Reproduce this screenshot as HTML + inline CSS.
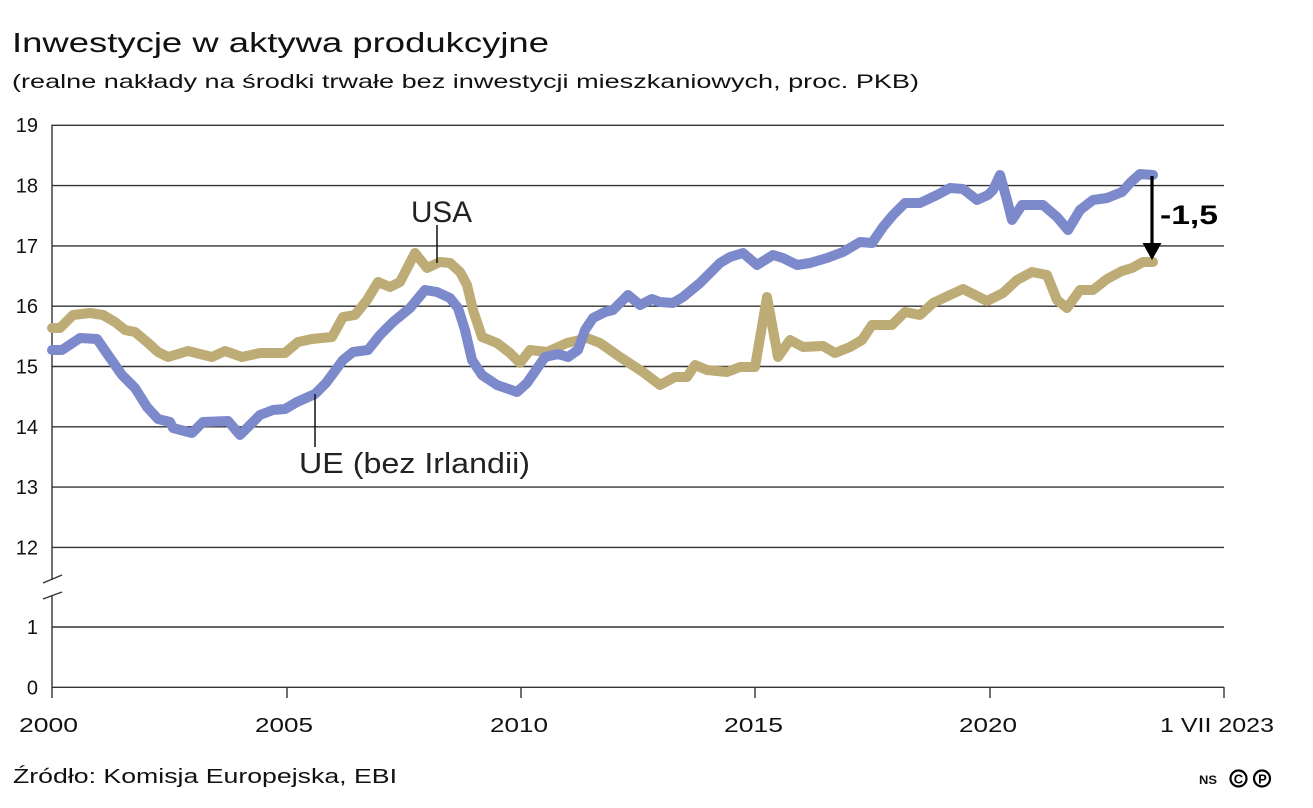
<!DOCTYPE html>
<html><head><meta charset="utf-8"><style>
html,body{margin:0;padding:0;background:#fff;}
svg{display:block;}
text{font-family:"Liberation Sans",sans-serif;}
</style></head><body>
<svg width="1313" height="808" viewBox="0 0 1313 808" xmlns="http://www.w3.org/2000/svg">
<rect width="1313" height="808" fill="#fff"/>
<text x="12" y="52" font-size="27.5" fill="#111" textLength="537" lengthAdjust="spacingAndGlyphs">Inwestycje w aktywa produkcyjne</text>
<text x="12" y="88" font-size="19.5" fill="#111" textLength="907" lengthAdjust="spacingAndGlyphs">(realne nakłady na środki trwałe bez inwestycji mieszkaniowych, proc. PKB)</text>
<g stroke="#333" stroke-width="1.4" fill="none">
<line x1="52" y1="125.3" x2="1224" y2="125.3"/>
<line x1="52" y1="185.6" x2="1224" y2="185.6"/>
<line x1="52" y1="245.9" x2="1224" y2="245.9"/>
<line x1="52" y1="306.2" x2="1224" y2="306.2"/>
<line x1="52" y1="366.5" x2="1224" y2="366.5"/>
<line x1="52" y1="426.8" x2="1224" y2="426.8"/>
<line x1="52" y1="487.1" x2="1224" y2="487.1"/>
<line x1="52" y1="547.4" x2="1224" y2="547.4"/>
<line x1="52" y1="627" x2="1224" y2="627"/>
<line x1="52" y1="687.3" x2="1224" y2="687.3"/>
<line x1="52" y1="124.6" x2="52" y2="580"/>
<line x1="52" y1="595" x2="52" y2="698"/>
<line x1="43" y1="583" x2="62" y2="575"/>
<line x1="43" y1="599" x2="62" y2="592"/>
<line x1="287" y1="687" x2="287" y2="698"/>
<line x1="521" y1="687" x2="521" y2="698"/>
<line x1="755" y1="687" x2="755" y2="698"/>
<line x1="990" y1="687" x2="990" y2="698"/>
<line x1="1224" y1="687" x2="1224" y2="698"/>
</g>
<g font-size="20" fill="#111" text-anchor="end">
<text x="38" y="132">19</text>
<text x="38" y="192.5">18</text>
<text x="38" y="253">17</text>
<text x="38" y="313">16</text>
<text x="38" y="373.5">15</text>
<text x="38" y="434">14</text>
<text x="38" y="494">13</text>
<text x="38" y="554.5">12</text>
<text x="38" y="634">1</text>
<text x="38" y="694.5">0</text>
</g>
<g font-size="20.5" fill="#111">
<text x="19" y="732" textLength="59" lengthAdjust="spacingAndGlyphs">2000</text>
<text x="255" y="732" textLength="58" lengthAdjust="spacingAndGlyphs">2005</text>
<text x="490" y="732" textLength="58" lengthAdjust="spacingAndGlyphs">2010</text>
<text x="724" y="732" textLength="59" lengthAdjust="spacingAndGlyphs">2015</text>
<text x="959" y="732" textLength="58" lengthAdjust="spacingAndGlyphs">2020</text>
<text x="1160" y="732" textLength="114" lengthAdjust="spacingAndGlyphs">1 VII 2023</text>
<text x="13" y="783" textLength="384" lengthAdjust="spacingAndGlyphs">Źródło: Komisja Europejska, EBI</text>
</g>
<polyline fill="none" stroke="#beac76" stroke-width="10" stroke-linejoin="round" stroke-linecap="round" points="52,328 60,328 73,315 90,313 103,315 115,322 125,330 135,332 147,342 158,352 168,357 188,351 212,357 225,351 242,357 260,353 285,353 298,342 312,339 332,337 343,317 355,315 367,300 378,282 390,287 400,282 415,253 427,268 440,262 450,263 460,272 467,285 473,310 482,337 497,343 510,353 520,363 530,350 547,352 567,343 580,340 587,338 600,343 620,357 643,372 660,385 675,377 687,377 695,365 707,370 727,372 740,367 755,367 767,297 778,357 790,340 803,347 823,346 835,353 850,347 862,340 872,325 892,325 905,312 920,315 933,303 950,295 963,289 987,301 1003,293 1017,280 1032,272 1047,275 1057,300 1067,308 1080,290 1093,290 1107,279 1122,271 1132,268 1143,262 1153,262"/>
<polyline fill="none" stroke="#7c8acc" stroke-width="10" stroke-linejoin="round" stroke-linecap="round" points="52,350 62,350 80,338 97,339 108,355 122,375 135,388 147,407 158,419 170,422 173,428 192,433 203,422 228,421 240,435 260,415 273,410 285,409 297,402 315,394 326,383 343,360 353,352 368,350 380,335 393,322 410,308 425,290 437,292 450,298 458,308 465,330 472,360 482,375 497,385 517,392 527,383 545,357 558,354 568,357 578,350 585,330 593,318 605,312 613,310 628,295 640,305 652,299 660,302 673,303 683,297 700,283 720,263 730,257 743,253 757,265 773,255 783,258 797,265 810,263 827,258 843,252 860,242 872,243 883,227 893,215 905,203 920,203 937,195 950,188 963,189 977,200 988,195 993,190 1000,175 1007,200 1012,220 1022,205 1043,205 1057,217 1068,230 1080,210 1093,200 1107,198 1122,192 1131,182 1140,174 1153,175"/>
<g stroke="#111" stroke-width="1.5">
<line x1="437" y1="225" x2="437" y2="263"/>
<line x1="315" y1="394" x2="315" y2="447"/>
</g>
<text x="411" y="222" font-size="30" fill="#222" textLength="61" lengthAdjust="spacingAndGlyphs">USA</text>
<text x="299" y="473" font-size="29" fill="#222" textLength="231" lengthAdjust="spacingAndGlyphs">UE (bez Irlandii)</text>
<line x1="1152" y1="176" x2="1152" y2="246" stroke="#000" stroke-width="3.2"/>
<polygon points="1142.5,243 1161.5,243 1152,260" fill="#000"/>
<text x="1160" y="224" font-size="26.5" font-weight="bold" fill="#000" textLength="58" lengthAdjust="spacingAndGlyphs">-1,5</text>
<text x="1199" y="784" font-size="11.5" font-weight="bold" fill="#111" textLength="18" lengthAdjust="spacingAndGlyphs">NS</text>
<circle cx="1238.5" cy="778.5" r="8" fill="none" stroke="#000" stroke-width="2.2"/>
<text x="1238.5" y="783.5" font-size="13" font-weight="bold" text-anchor="middle" fill="#000">C</text>
<circle cx="1262" cy="778.5" r="8" fill="none" stroke="#000" stroke-width="2.2"/>
<text x="1262.5" y="783.5" font-size="13" font-weight="bold" text-anchor="middle" fill="#000">P</text>
</svg>
</body></html>
